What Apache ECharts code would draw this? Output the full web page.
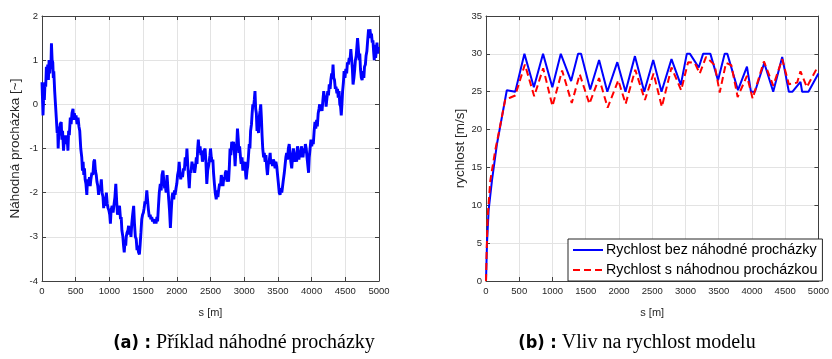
<!DOCTYPE html>
<html><head><meta charset="utf-8">
<script src="https://cdn.jsdelivr.net/npm/echarts@6/dist/echarts.min.js"></script>
<style>html,body{margin:0;padding:0;background:#fff}#c{width:832px;height:359px}</style>
</head><body><div id="c"></div>
<script>
// ---- data ----
const xTicks = [0,500,1000,1500,2000,2500,3000,3500,4000,4500,5000];
const walkTicks = [-4,-3,-2,-1,0,1,2];
const speedTicks = [0,5,10,15,20,25,30,35];
// random walk (s [m], value)
const walk = [[0,0.5],[8,0.1],[15,-0.25],[25,0.2],[35,0.1],[45,0.5],[55,0.4],[65,0.85],[75,0.6],[85,0.9],[95,0.55],[105,1.0],[115,0.7],[125,1.0],[132,0.8],[140,1.38],[150,1.0],[160,0.95],[168,0.6],[175,0.75],[188,0.3],[200,0.0],[212,-0.3],[225,-0.65],[232,-0.5],[240,-1.0],[250,-0.6],[260,-0.7],[270,-0.45],[285,-0.4],[295,-0.8],[305,-0.6],[320,-1.05],[332,-0.75],[340,-0.9],[350,-0.7],[362,-0.85],[372,-0.75],[385,-1.05],[395,-0.6],[405,-0.7],[420,-0.3],[432,-0.45],[445,-0.2],[460,-0.1],[470,-0.35],[480,-0.2],[495,-0.35],[505,-0.25],[520,-0.45],[535,-0.3],[548,-0.5],[560,-0.6],[575,-1.0],[590,-1.2],[600,-1.5],[610,-1.3],[620,-1.6],[630,-1.45],[640,-1.7],[652,-1.8],[665,-2.05],[675,-1.7],[690,-1.8],[705,-1.65],[715,-1.85],[725,-1.7],[740,-1.55],[755,-1.6],[768,-1.3],[780,-1.25],[792,-1.5],[805,-1.6],[815,-1.75],[828,-1.85],[840,-2.05],[852,-1.85],[865,-1.95],[880,-1.7],[892,-2.0],[905,-2.1],[915,-2.35],[925,-2.1],[940,-2.3],[955,-2.0],[968,-2.25],[980,-2.35],[992,-2.4],[1005,-2.5],[1015,-2.7],[1025,-2.4],[1040,-2.3],[1055,-2.45],[1070,-2.25],[1082,-2.1],[1095,-1.8],[1108,-2.2],[1120,-2.5],[1135,-2.35],[1150,-2.3],[1165,-2.6],[1175,-2.55],[1185,-2.85],[1200,-3.0],[1210,-3.2],[1220,-3.35],[1232,-3.1],[1242,-3.2],[1250,-3.0],[1262,-2.9],[1275,-2.85],[1285,-2.75],[1295,-2.95],[1308,-2.8],[1320,-3.0],[1332,-2.7],[1345,-2.5],[1360,-2.3],[1372,-2.7],[1385,-3.0],[1398,-3.05],[1410,-3.3],[1420,-3.2],[1432,-3.35],[1445,-3.4],[1455,-3.2],[1468,-2.9],[1480,-2.6],[1492,-2.5],[1505,-2.45],[1515,-2.35],[1528,-2.2],[1540,-2.25],[1555,-1.95],[1568,-2.2],[1580,-2.4],[1592,-2.55],[1605,-2.5],[1615,-2.6],[1628,-2.55],[1640,-2.65],[1655,-2.6],[1668,-2.7],[1680,-2.6],[1692,-2.7],[1705,-2.55],[1715,-2.65],[1728,-2.3],[1740,-2.0],[1755,-1.8],[1768,-1.95],[1780,-1.6],[1795,-1.5],[1808,-1.75],[1820,-1.9],[1830,-1.85],[1842,-2.0],[1855,-1.6],[1868,-1.9],[1880,-2.15],[1892,-2.4],[1905,-2.8],[1918,-2.4],[1930,-2.1],[1940,-2.0],[1955,-2.15],[1965,-1.95],[1975,-2.05],[1988,-1.9],[2000,-1.8],[2012,-1.6],[2025,-1.5],[2035,-1.3],[2048,-1.55],[2058,-1.7],[2070,-1.55],[2085,-1.65],[2100,-1.45],[2112,-1.5],[2125,-1.2],[2138,-1.4],[2150,-1.0],[2160,-1.3],[2172,-1.6],[2185,-1.9],[2198,-1.5],[2210,-1.55],[2225,-1.3],[2238,-1.45],[2250,-1.35],[2265,-1.55],[2278,-1.4],[2290,-1.2],[2300,-1.35],[2310,-1.0],[2320,-0.8],[2332,-1.1],[2345,-0.95],[2358,-1.15],[2368,-1.05],[2380,-1.3],[2392,-1.2],[2405,-1.05],[2420,-1.0],[2432,-1.3],[2445,-1.8],[2458,-1.5],[2470,-1.4],[2480,-1.3],[2492,-1.15],[2500,-1.0],[2512,-1.2],[2522,-1.3],[2535,-1.25],[2545,-1.55],[2558,-1.8],[2570,-2.0],[2585,-2.15],[2598,-1.95],[2610,-2.1],[2620,-1.95],[2635,-1.8],[2648,-1.85],[2660,-1.6],[2672,-1.7],[2685,-1.85],[2698,-1.65],[2710,-1.7],[2720,-1.55],[2732,-1.5],[2745,-1.75],[2758,-1.65],[2768,-1.75],[2780,-1.4],[2790,-1.0],[2802,-1.15],[2815,-0.85],[2830,-0.95],[2842,-0.85],[2855,-1.1],[2865,-1.4],[2878,-1.0],[2890,-0.9],[2900,-0.55],[2912,-0.8],[2922,-1.1],[2932,-0.95],[2945,-1.2],[2955,-1.35],[2968,-1.2],[2980,-1.5],[2990,-1.3],[3000,-1.45],[3012,-1.3],[3022,-1.6],[3030,-1.7],[3042,-1.5],[3052,-1.4],[3062,-1.2],[3075,-0.9],[3085,-1.0],[3095,-0.6],[3108,-0.45],[3118,-0.2],[3128,0.0],[3140,-0.05],[3150,0.1],[3160,0.3],[3170,-0.1],[3180,-0.2],[3190,-0.6],[3200,-0.4],[3212,-0.65],[3222,-0.3],[3235,-0.15],[3245,0.0],[3255,-0.3],[3265,-0.7],[3275,-1.0],[3288,-1.2],[3298,-1.1],[3310,-1.3],[3322,-1.15],[3335,-1.45],[3345,-1.6],[3358,-1.35],[3370,-1.3],[3385,-1.1],[3395,-1.35],[3408,-1.25],[3420,-1.4],[3432,-1.25],[3445,-1.3],[3458,-1.45],[3470,-1.3],[3482,-1.4],[3495,-1.6],[3508,-1.8],[3520,-2.0],[3532,-2.05],[3545,-1.9],[3558,-2.0],[3570,-1.85],[3582,-1.7],[3595,-1.55],[3605,-1.4],[3618,-1.2],[3630,-1.1],[3642,-1.25],[3655,-1.0],[3668,-0.9],[3680,-1.1],[3692,-1.3],[3705,-1.45],[3718,-1.2],[3730,-1.0],[3742,-1.1],[3755,-1.3],[3765,-1.2],[3778,-1.3],[3790,-0.95],[3800,-1.05],[3812,-1.25],[3822,-1.1],[3835,-1.2],[3848,-0.95],[3860,-1.05],[3872,-1.2],[3885,-1.0],[3895,-1.1],[3908,-0.9],[3920,-1.0],[3932,-1.2],[3945,-1.4],[3955,-1.55],[3965,-1.2],[3978,-1.0],[3990,-0.8],[4002,-0.95],[4015,-0.8],[4025,-0.9],[4038,-0.6],[4050,-0.4],[4062,-0.55],[4075,-0.35],[4085,-0.5],[4098,-0.2],[4110,-0.1],[4120,0.0],[4132,-0.15],[4145,-0.05],[4155,-0.15],[4168,0.1],[4180,0.3],[4192,0.1],[4205,0.2],[4215,-0.05],[4228,0.15],[4240,0.3],[4250,0.2],[4262,0.45],[4275,0.35],[4285,0.55],[4298,0.7],[4308,0.6],[4318,0.9],[4328,0.6],[4340,0.55],[4352,0.35],[4362,0.4],[4375,0.25],[4385,0.35],[4395,0.15],[4408,0.3],[4418,0.0],[4430,-0.05],[4440,-0.25],[4450,0.0],[4460,0.3],[4472,0.5],[4482,0.75],[4495,0.6],[4508,0.8],[4520,0.7],[4532,0.95],[4545,0.9],[4558,1.05],[4570,1.0],[4582,1.25],[4595,1.0],[4605,0.8],[4615,0.45],[4628,0.6],[4640,0.8],[4650,1.0],[4662,1.1],[4672,1.3],[4682,1.5],[4692,1.3],[4705,1.0],[4715,1.15],[4725,0.8],[4738,0.6],[4750,0.55],[4762,0.75],[4775,0.6],[4785,0.85],[4798,0.9],[4808,1.1],[4820,1.2],[4832,1.45],[4845,1.7],[4855,1.5],[4865,1.7],[4878,1.55],[4888,1.6],[4900,1.4],[4910,1.45],[4920,1.2],[4930,1.0],[4940,1.35],[4950,1.05],[4960,1.2],[4970,1.4],[4980,1.15],[4990,1.3]];
// speed without random walk (s, v)
const speedBase = [[0,0],[15,5],[40,9.4],[90,13.3],[165,18.1],[238,21.6],[313,25.2],[337,25],[440,25],[578,30],[720,25.6],[858,30],[998,25.6],[1125,30],[1280,26.4],[1385,30],[1430,30],[1567,25.3],[1701,29.2],[1825,25],[1850,25],[1975,28.9],[2098,25],[2240,29.7],[2380,25],[2515,29.2],[2640,25],[2660,25],[2790,29.3],[2930,25.9],[3020,30],[3068,30],[3200,28.2],[3265,30],[3375,30],[3490,26.5],[3590,30],[3630,30],[3790,25.2],[3925,28.3],[3985,25],[4045,25],[4185,28.8],[4320,25],[4455,29.6],[4555,25],[4610,25],[4730,26.3],[4755,25],[4850,25],[5000,27.4]];
// speed with random walk (s, v)
const speedWalk = [[0,0],[10,4],[25,8.5],[65,13.3],[140,17.3],[215,20.6],[290,24.0],[360,24.2],[440,24.5],[585,28.6],[725,24.4],[860,28.1],[1000,23.1],[1145,27.8],[1290,23.5],[1410,27.3],[1555,23.4],[1700,26.8],[1830,22.9],[1990,26.5],[2100,23.4],[2245,27.9],[2390,23.9],[2520,27.4],[2645,23.0],[2790,28.2],[2935,25.2],[3040,28.9],[3140,28.8],[3215,27.4],[3310,29.6],[3440,28.5],[3515,24.9],[3610,28.8],[3690,28.5],[3785,24.3],[3925,27.1],[4010,24.1],[4180,29.0],[4320,25.8],[4455,29.3],[4555,26.0],[4680,26.2],[4730,27.7],[4825,25.6],[4990,28.3]];
const seriesNames = ['Rychlost bez náhodné procházky','Rychlost s náhodnou procházkou'];
const axisNames = {x:'s [m]', yWalk:'Náhodná procházka [~]', ySpeed:'rychlost [m/s]'};
const captions = {a:['(a) :',' Příklad náhodné procházky'], b:['(b) :',' Vliv na rychlost modelu']};

// ---- chart ----
const chart = echarts.init(document.getElementById('c'), null, {renderer:'canvas'});
const FONT = 'Liberation Sans, Arial, sans-serif';
const axisCol = '#404040';
const lblCol = '#262626';
const plain = v => String(v);
function xAx(grid, pos){
  const main = pos==='bottom';
  return {type:'value', gridIndex:grid, position:pos, min:xTicks[0], max:xTicks[xTicks.length-1], interval:500,
    name: main?axisNames.x:'', nameLocation:'middle', nameGap:26,
    nameTextStyle:{fontFamily:FONT, fontSize:11, color:lblCol},
    axisLine:{show:true, onZero:false, lineStyle:{color:axisCol, width:1}},
    axisTick:{show:true, inside:true, length:4, lineStyle:{color:axisCol}},
    axisLabel:{show:main, formatter:plain, fontFamily:FONT, fontSize:9.5, color:lblCol, margin:5},
    splitLine:{show:main, lineStyle:{color:'#e3e3e3', width:1}}};
}
function yAx(grid, pos, ticks, name, gap){
  const main = pos==='left';
  return {type:'value', gridIndex:grid, position:pos, min:ticks[0], max:ticks[ticks.length-1], interval:ticks[1]-ticks[0],
    name: main?name:'', nameLocation:'middle', nameGap:gap,
    nameTextStyle:{fontFamily:FONT, fontSize:13.5, color:lblCol},
    axisLine:{show:true, onZero:false, lineStyle:{color:axisCol, width:1}},
    axisTick:{show:true, inside:true, length:4, lineStyle:{color:axisCol}},
    axisLabel:{show:main, formatter:plain, fontFamily:FONT, fontSize:9.5, color:lblCol, margin:4},
    splitLine:{show:main, lineStyle:{color:'#e3e3e3', width:1}}};
}
const captionRich = {
  b:{fontFamily:'DejaVu Sans Condensed, DejaVu Sans, sans-serif', fontWeight:'bold', fontSize:18, fill:'#000'},
  s:{fontFamily:'Liberation Serif, DejaVu Serif, serif', fontSize:20, fill:'#000'}
};
const option = {
  animation:false,
  backgroundColor:'#fff',
  grid:[
    {left:42, top:16, width:337, height:265},
    {left:486, top:16, width:336, height:265}
  ],
  xAxis:[xAx(0,'bottom'), xAx(0,'top'), xAx(1,'bottom'), xAx(1,'top')],
  yAxis:[yAx(0,'left',walkTicks,axisNames.yWalk,20), yAx(0,'right',walkTicks,'',0),
         yAx(1,'left',speedTicks,axisNames.ySpeed,19), yAx(1,'right',speedTicks,'',0)],
  legend:{
    data:seriesNames, left:568, top:239, orient:'vertical',
    itemWidth:30, itemHeight:14, itemGap:6, padding:[4,5,4,4],
    borderColor:'#262626', borderWidth:1, backgroundColor:'#fff',
    itemStyle:{opacity:0},
    textStyle:{fontFamily:FONT, fontSize:14.3, color:'#000', padding:[0,0,0,-2]}
  },
  series:[
    {type:'line', xAxisIndex:0, yAxisIndex:0, data:walk, showSymbol:false, symbol:'none',
     lineStyle:{color:'#0000ff', width:2.9}, z:3},
    {name:seriesNames[0], type:'line', xAxisIndex:2, yAxisIndex:2, data:speedBase, symbol:'none',
     itemStyle:{color:'#0000ff'}, lineStyle:{color:'#0000ff', width:2}, z:3},
    {name:seriesNames[1], type:'line', xAxisIndex:2, yAxisIndex:2, data:speedWalk, symbol:'none',
     itemStyle:{color:'#ff0000'}, lineStyle:{color:'#ff0000', width:2, type:[7,4]}, z:4}
  ],
  graphic:[
    {type:'text', x:244, y:343, style:{
      text:'{b|'+captions.a[0]+'}{s|'+captions.a[1]+'}', align:'center', verticalAlign:'middle', rich:captionRich}},
    {type:'text', x:637, y:343, style:{
      text:'{b|'+captions.b[0]+'}{s|'+captions.b[1]+'}', align:'center', verticalAlign:'middle', rich:captionRich}}
  ]
};
chart.setOption(option);
</script></body></html>
